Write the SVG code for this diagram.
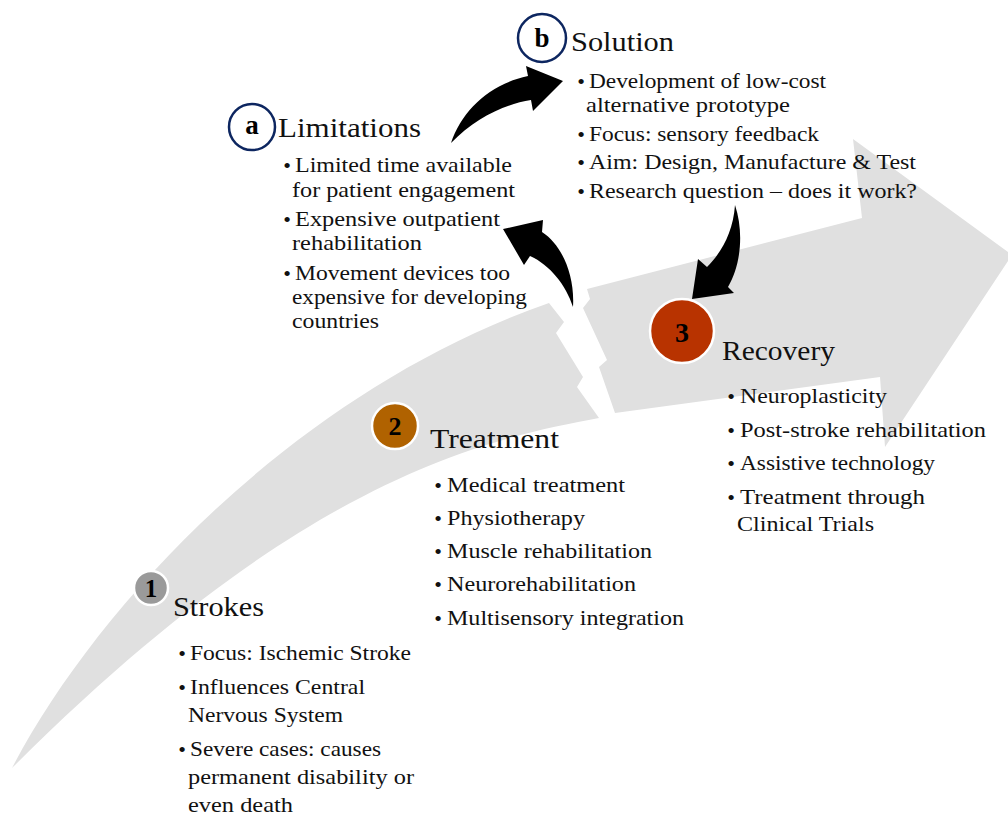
<svg xmlns="http://www.w3.org/2000/svg" width="1008" height="815" viewBox="0 0 1008 815">
<defs>
<style>
.band{fill:#e0e0e0;stroke:none}
.conn{fill:#000;stroke:none}
.title{font-size:28px;fill:#111}
.item{font-size:21.5px;fill:#111}
.bul{font-size:22px;fill:#111;text-anchor:middle}
.num{font-weight:bold;fill:#000;text-anchor:middle}
.step{stroke:#fff;stroke-width:2.5}
.letter{fill:#fff;stroke:#0d2660;stroke-width:2.5}
</style>
</defs>
<rect width="1008" height="815" fill="#fff"/>
<g id="timeline-band">
<path class="band" d="M12,768 C100,600 300,390 549,303 L564,322 L556,333 L583,377 L577,387 L599,418 C480,440 300,480 12,768 Z"/>
<path class="band" d="M587,289 L862,218 L853,139 L1012,255 L885,447 L880,377 L615,413 L599,367 L607,360 L583,308 L590,299 Z"/>
</g>
<g id="connectors">
<path class="conn" d="M451,143 C462,110 490,84 528,76 L526,66 L563,81 L533,111 L531,100 C505,104 475,118 451,143 Z"/>
<path class="conn" d="M573,307 C575,275 562,245 542,232 L543,220 L503,229 L524,265 L530,256 C550,265 566,285 573,307 Z"/>
<path class="conn" d="M735,205 C744,232 741,265 728,287 L734,293 L692,299 L698,259 L707,267 C722,252 733,232 735,205 Z"/>
</g>
<g font-family="Liberation Serif, Times New Roman, serif">
<g id="node-limitations">
<circle class="letter" cx="252" cy="127" r="23"/>
<text class="num" x="252" y="134" font-size="27">a</text>
<text class="title" x="278" y="137" textLength="143" lengthAdjust="spacingAndGlyphs">Limitations</text>
<text class="bul" x="287" y="173">•</text>
<text class="item" x="295" y="172" textLength="217" lengthAdjust="spacingAndGlyphs">Limited time available</text>
<text class="item" x="292" y="197" textLength="223" lengthAdjust="spacingAndGlyphs">for patient engagement</text>
<text class="bul" x="287" y="227">•</text>
<text class="item" x="295" y="226" textLength="205" lengthAdjust="spacingAndGlyphs">Expensive outpatient</text>
<text class="item" x="292" y="250" textLength="130" lengthAdjust="spacingAndGlyphs">rehabilitation</text>
<text class="bul" x="287" y="281">•</text>
<text class="item" x="295" y="280" textLength="215" lengthAdjust="spacingAndGlyphs">Movement devices too</text>
<text class="item" x="292" y="304" textLength="235" lengthAdjust="spacingAndGlyphs">expensive for developing</text>
<text class="item" x="292" y="328" textLength="87" lengthAdjust="spacingAndGlyphs">countries</text>
</g>
<g id="node-solution">
<circle class="letter" cx="542" cy="38" r="24"/>
<text class="num" x="542" y="47" font-size="27">b</text>
<text class="title" x="571" y="51" textLength="103" lengthAdjust="spacingAndGlyphs">Solution</text>
<text class="bul" x="581" y="89">•</text>
<text class="item" x="589" y="88" textLength="237" lengthAdjust="spacingAndGlyphs">Development of low-cost</text>
<text class="item" x="586" y="112" textLength="204" lengthAdjust="spacingAndGlyphs">alternative prototype</text>
<text class="bul" x="581" y="142">•</text>
<text class="item" x="589" y="141" textLength="230" lengthAdjust="spacingAndGlyphs">Focus: sensory feedback</text>
<text class="bul" x="581" y="170">•</text>
<text class="item" x="589" y="169" textLength="327" lengthAdjust="spacingAndGlyphs">Aim: Design, Manufacture &amp; Test</text>
<text class="bul" x="581" y="199">•</text>
<text class="item" x="589" y="198" textLength="328" lengthAdjust="spacingAndGlyphs">Research question – does it work?</text>
</g>
<g id="node-strokes">
<circle class="step" cx="151" cy="588" r="17" fill="#9a9a9a"/>
<text class="num" x="151" y="597" font-size="25">1</text>
<text class="title" x="173" y="616" textLength="91" lengthAdjust="spacingAndGlyphs">Strokes</text>
<text class="bul" x="182" y="661">•</text>
<text class="item" x="190" y="660" textLength="221" lengthAdjust="spacingAndGlyphs">Focus: Ischemic Stroke</text>
<text class="bul" x="182" y="695">•</text>
<text class="item" x="190" y="694" textLength="175" lengthAdjust="spacingAndGlyphs">Influences Central</text>
<text class="item" x="188" y="722" textLength="155" lengthAdjust="spacingAndGlyphs">Nervous System</text>
<text class="bul" x="182" y="757">•</text>
<text class="item" x="190" y="756" textLength="191" lengthAdjust="spacingAndGlyphs">Severe cases: causes</text>
<text class="item" x="188" y="784" textLength="226" lengthAdjust="spacingAndGlyphs">permanent disability or</text>
<text class="item" x="188" y="812" textLength="105" lengthAdjust="spacingAndGlyphs">even death</text>
</g>
<g id="node-treatment">
<circle class="step" cx="395" cy="426" r="23" fill="#b06200"/>
<text class="num" x="395" y="435" font-size="26">2</text>
<text class="title" x="430" y="448" textLength="129" lengthAdjust="spacingAndGlyphs">Treatment</text>
<text class="bul" x="438" y="493">•</text>
<text class="item" x="447" y="492" textLength="178" lengthAdjust="spacingAndGlyphs">Medical treatment</text>
<text class="bul" x="438" y="526">•</text>
<text class="item" x="447" y="525" textLength="138" lengthAdjust="spacingAndGlyphs">Physiotherapy</text>
<text class="bul" x="438" y="559">•</text>
<text class="item" x="447" y="558" textLength="205" lengthAdjust="spacingAndGlyphs">Muscle rehabilitation</text>
<text class="bul" x="438" y="592">•</text>
<text class="item" x="447" y="591" textLength="189" lengthAdjust="spacingAndGlyphs">Neurorehabilitation</text>
<text class="bul" x="438" y="626">•</text>
<text class="item" x="447" y="625" textLength="237" lengthAdjust="spacingAndGlyphs">Multisensory integration</text>
</g>
<g id="node-recovery">
<circle class="step" cx="682" cy="331" r="32" fill="#b83300"/>
<text class="num" x="682" y="342" font-size="28">3</text>
<text class="title" x="722" y="360" textLength="113" lengthAdjust="spacingAndGlyphs">Recovery</text>
<text class="bul" x="731" y="404">•</text>
<text class="item" x="740" y="403" textLength="147" lengthAdjust="spacingAndGlyphs">Neuroplasticity</text>
<text class="bul" x="731" y="438">•</text>
<text class="item" x="740" y="437" textLength="246" lengthAdjust="spacingAndGlyphs">Post-stroke rehabilitation</text>
<text class="bul" x="731" y="471">•</text>
<text class="item" x="740" y="470" textLength="195" lengthAdjust="spacingAndGlyphs">Assistive technology</text>
<text class="bul" x="731" y="505">•</text>
<text class="item" x="740" y="504" textLength="185" lengthAdjust="spacingAndGlyphs">Treatment through</text>
<text class="item" x="737" y="531" textLength="137" lengthAdjust="spacingAndGlyphs">Clinical Trials</text>
</g>
</g>
</svg>
